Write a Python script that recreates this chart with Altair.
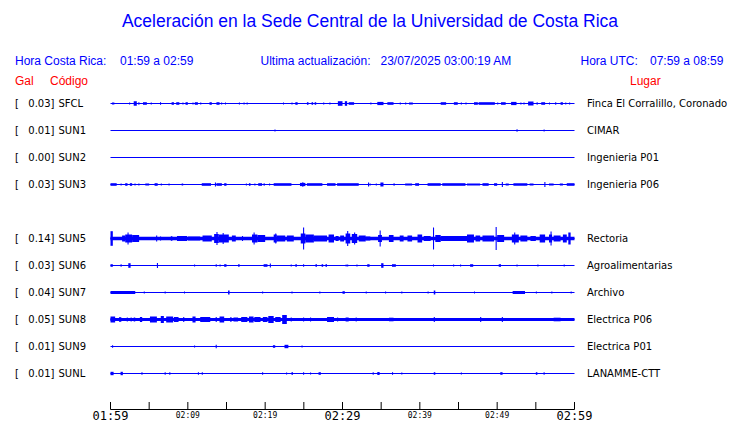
import altair as alt
import pandas as pd

BLUE = "#0000ff"
RED = "#ff0000"

stations = ["SFCL", "SUN1", "SUN2", "SUN3", "SUN5", "SUN6", "SUN7", "SUN8", "SUN9", "SUNL"]
row_slot = [0, 1, 2, 3, 5, 6, 7, 8, 9, 10]
gal_peak = ["0.03", "0.01", "0.00", "0.03", "0.14", "0.03", "0.04", "0.05", "0.01", "0.01"]
places = ["Finca El Corralillo, Coronado", "CIMAR", "Ingenieria P01", "Ingenieria P06",
          "Rectoria", "Agroalimentarias", "Archivo", "Electrica P06", "Electrica P01", "LANAMME-CTT"]
noise_level = [0, 0, 0, 0, 1.7, 0, 0, 1.4, 0, 0]

# bursts: (start minute, end minute, half amplitude)
sfcl_bursts = [(0.2, 0.5, 1), (2.4, 2.4, 1), (3.0, 3.4, 2.3), (3.6, 3.7, 1.3), (4.2, 4.7, 1.3), (5.2, 5.2, 1),
               (6.4, 6.4, 1.3), (7.9, 8.2, 1.3), (8.5, 8.9, 1.3), (9.3, 9.3, 1), (9.7, 10.0, 1.3), (10.6, 10.6, 1),
               (10.9, 11.3, 1.3), (11.6, 11.6, 1), (12.8, 13.1, 1.3), (13.7, 14.1, 1.3), (14.3, 14.3, 1),
               (14.8, 14.8, 1), (16.6, 16.6, 1), (17.2, 17.2, 1), (17.6, 17.6, 1), (22.3, 22.3, 1), (23.4, 23.4, 1),
               (23.9, 24.2, 1.3), (25.4, 25.6, 1.3), (26.0, 26.2, 1.3), (26.4, 26.6, 1.3), (27.5, 27.5, 1),
               (28.3, 28.3, 1), (29.4, 30.0, 2.3), (30.3, 30.6, 2.3), (30.8, 31.5, 1.3), (33.6, 33.6, 1),
               (34.5, 35.3, 1.6), (35.8, 36.6, 1.3), (37.4, 37.4, 1), (38.1, 38.1, 1), (38.6, 39.1, 1),
               (42.7, 43.4, 1.3), (44.4, 44.9, 1.3), (45.3, 45.3, 1), (45.9, 45.9, 1), (47.0, 47.5, 1.3),
               (47.6, 49.7, 1.3), (50.0, 50.0, 1), (50.5, 51.1, 1.3), (51.8, 52.5, 1.6), (53.0, 53.0, 1),
               (53.4, 53.4, 1), (54.0, 54.7, 2), (55.1, 55.1, 1.3), (55.7, 56.2, 1.3), (56.7, 56.7, 1),
               (57.5, 57.5, 1.3), (58.2, 58.5, 1.3), (58.8, 58.8, 1), (59.3, 59.3, 1)]
sun1_bursts = [(21.2, 21.2, 1), (52.5, 52.5, 1.3), (56.0, 56.0, 1)]
sun2_bursts = []
sun3_bursts = [(0.0, 0.8, 1.3), (1.3, 1.3, 1), (1.9, 2.2, 1.3), (2.5, 2.8, 1.3), (3.1, 3.1, 1), (3.6, 3.6, 1),
               (4.5, 5.0, 1), (5.7, 6.1, 1.3), (6.5, 6.5, 1), (7.5, 7.5, 1), (9.2, 9.4, 1), (11.8, 13.0, 1.3),
               (13.5, 13.5, 2), (13.7, 14.4, 1.3), (14.7, 15.0, 1.3), (17.5, 17.5, 1), (17.9, 18.1, 1.3),
               (18.6, 18.6, 1), (19.1, 19.6, 1.3), (19.8, 19.8, 1.3), (20.5, 20.5, 1), (21.1, 23.4, 1.3),
               (24.5, 25.2, 1.6), (24.8, 24.8, 2.3), (25.4, 27.4, 1.3), (28.0, 29.1, 1.3), (29.3, 32.1, 1.3),
               (33.3, 33.3, 2), (33.5, 33.5, 1), (34.3, 34.3, 1), (34.9, 35.3, 2), (36.6, 36.6, 1.3),
               (38.1, 39.0, 1), (39.4, 39.9, 1.3), (41.0, 42.7, 1.3), (42.9, 45.9, 1.3), (46.1, 47.8, 1),
               (48.1, 48.9, 1.3), (49.6, 50.0, 1.3), (50.6, 50.6, 2.5), (51.1, 51.5, 1), (52.1, 53.9, 1.3),
               (54.2, 54.7, 1), (56.1, 56.1, 2.5), (56.7, 57.3, 1), (58.1, 58.5, 1), (59.0, 60.0, 1.3)]
sun5_bursts = [(0.0, 0.3, 7.3), (1.5, 1.9, 3), (1.9, 2.8, 4), (2.2, 2.3, 6), (2.8, 3.7, 3.5), (5.9, 5.9, 3),
               (6.4, 6.4, 2), (7.8, 8.0, 2.3), (8.6, 9.9, 2.5), (10.0, 11.6, 2), (11.9, 13.1, 3),
               (13.4, 14.0, 4.5), (13.7, 13.8, 6.5), (14.0, 15.3, 4), (14.5, 14.6, 5.5), (15.7, 16.2, 3),
               (17.0, 17.0, 2.5), (18.3, 19.0, 4), (18.5, 18.6, 6), (19.0, 20.0, 3.5), (21.1, 21.5, 4),
               (21.3, 21.3, 5), (21.5, 22.6, 3), (22.8, 23.7, 3), (24.6, 25.2, 5), (24.9, 24.9, 11),
               (25.2, 26.3, 4), (26.3, 28.0, 3), (28.2, 28.9, 4), (29.1, 29.5, 2.5), (29.7, 30.2, 3),
               (30.4, 31.0, 5), (30.6, 30.7, 7.5), (31.2, 31.9, 4.5), (31.5, 31.5, 6), (32.1, 33.0, 3),
               (33.0, 33.6, 2), (34.6, 35.1, 3.5), (34.8, 34.8, 8), (36.0, 36.6, 3.5), (37.4, 37.9, 3),
               (38.4, 39.0, 3), (39.7, 40.3, 4), (40.5, 41.4, 2.5), (41.7, 41.8, 11), (42.0, 42.7, 3.5),
               (42.7, 46.1, 2.5), (46.1, 47.0, 4), (47.2, 47.8, 3), (48.1, 49.6, 3), (49.8, 49.9, 11.5),
               (50.0, 50.9, 3.5), (51.9, 52.8, 4), (52.2, 52.3, 6), (53.0, 53.9, 3), (54.3, 55.0, 2.5),
               (55.5, 56.2, 4), (56.7, 57.1, 4), (56.9, 56.9, 7), (57.3, 58.2, 3), (58.5, 59.0, 4),
               (59.2, 59.5, 6)]
sun6_bursts = [(0.0, 0.3, 1.3), (1.3, 1.3, 1.3), (2.3, 2.6, 2.3), (6.0, 6.0, 2.5), (10.8, 10.8, 1),
               (13.6, 13.6, 1.3), (14.1, 14.1, 1), (14.7, 15.0, 1.3), (16.5, 16.7, 1.3), (19.8, 20.3, 1.3),
               (20.6, 20.6, 2), (23.3, 23.3, 1), (23.9, 24.1, 1.3), (24.9, 25.0, 1.3), (26.5, 26.7, 1.3),
               (27.3, 27.5, 1.3), (27.8, 28.0, 1.3), (30.4, 30.4, 1), (30.6, 30.6, 1), (31.8, 31.8, 1),
               (33.2, 33.5, 1.3), (35.0, 35.3, 2.3), (36.4, 36.9, 1.3), (41.7, 41.7, 1), (44.3, 44.3, 1),
               (45.2, 45.2, 1), (46.5, 46.9, 1.3), (50.2, 50.5, 1.3), (52.5, 52.5, 1), (55.2, 55.2, 1),
               (58.6, 58.6, 1)]
sun7_bursts = [(0.0, 3.2, 1.5), (4.3, 4.3, 1), (7.0, 7.0, 1), (9.5, 9.5, 1), (15.2, 15.4, 2), (19.6, 19.6, 1),
               (23.4, 23.4, 1), (27.0, 27.0, 1), (30.0, 30.3, 1.3), (33.0, 33.0, 1), (35.5, 35.5, 1),
               (37.6, 37.6, 1), (41.0, 41.0, 1), (41.8, 42.0, 2), (47.0, 47.0, 1), (52.0, 53.6, 1.5),
               (55.0, 55.0, 1), (57.0, 57.0, 1), (59.5, 59.5, 1)]
sun8_bursts = [(0.0, 0.6, 3), (1.1, 1.4, 2.3), (2.1, 2.1, 2), (2.6, 2.6, 2), (3.0, 3.2, 2), (3.8, 4.1, 2.5),
               (5.1, 6.0, 3), (6.5, 6.9, 3.5), (7.2, 8.1, 3), (8.2, 8.8, 2.5), (9.4, 9.4, 2.5), (10.6, 11.0, 3),
               (11.6, 12.9, 2.5), (13.6, 13.6, 2.5), (14.1, 14.7, 3), (15.5, 15.5, 2.5), (15.9, 16.5, 2),
               (16.9, 17.7, 2.5), (17.9, 18.5, 3), (18.6, 19.4, 2.5), (19.7, 20.3, 2.5), (20.4, 21.1, 3.5),
               (21.3, 22.0, 2.5), (22.2, 22.8, 4.5), (23.3, 23.3, 2), (24.9, 24.9, 2), (25.8, 25.8, 2),
               (28.0, 28.9, 2.5), (29.3, 29.3, 2), (30.4, 30.8, 2), (31.7, 31.7, 2), (33.6, 33.6, 1.5),
               (36.0, 36.6, 1.8), (39.4, 39.4, 1.5), (41.8, 41.8, 2.5), (45.3, 45.3, 1.5), (47.8, 47.8, 2.5),
               (50.6, 50.6, 2.5), (53.2, 53.2, 1.5), (57.3, 58.2, 1.8)]
sun9_bursts = [(0.2, 0.2, 1.3), (10.8, 10.8, 1), (13.6, 13.6, 1.7), (21.0, 21.3, 1.3), (22.5, 23.0, 1.7),
               (24.7, 24.7, 1)]
sunl_bursts = [(0.0, 0.4, 1.7), (1.3, 1.6, 1.7), (4.0, 4.0, 1.3), (7.0, 7.0, 1.3), (7.6, 7.6, 1.3),
               (11.3, 11.3, 1.3), (11.8, 11.8, 1.3), (19.6, 19.6, 1.3), (22.7, 22.7, 1), (23.4, 23.6, 1.3),
               (24.9, 24.9, 1.3), (25.8, 25.8, 1), (26.9, 27.2, 1.3), (33.9, 33.9, 1.3), (34.5, 34.8, 1.5),
               (36.4, 36.4, 1.3), (37.6, 37.6, 1), (41.8, 42.0, 1.3), (45.3, 45.3, 1), (50.4, 50.7, 1.3),
               (55.0, 55.2, 1.3), (56.0, 56.0, 1.3)]

all_bursts = [sfcl_bursts, sun1_bursts, sun2_bursts, sun3_bursts, sun5_bursts,
              sun6_bursts, sun7_bursts, sun8_bursts, sun9_bursts, sunl_bursts]

tick_minutes = list(range(0, 61, 5))
label_minutes = [0, 10, 20, 30, 40, 50, 60]
label_text = ["01:59", "02:09", "02:19", "02:29", "02:39", "02:49", "02:59"]
label_big = [True, False, False, True, False, False, True]

title_text = "Aceleración en la Sede Central de la Universidad de Costa Rica"
hdr_cr_label, hdr_cr_value = "Hora Costa Rica:", "01:59 a 02:59"
hdr_upd_label, hdr_upd_value = "Ultima actualización:", "23/07/2025 03:00:19 AM"
hdr_utc_label, hdr_utc_value = "Hora UTC:", "07:59 a 08:59"

# ---------------- build tables ----------------
PX_PER_ROW = 27.0
st_df = pd.DataFrame({"station": stations, "row": row_slot, "gal": [g + "]" for g in gal_peak],
                      "place": places, "noise": noise_level})
st_df["t0"] = 0
st_df["t1"] = 60
st_df["lo"] = st_df["row"] - st_df["noise"] / PX_PER_ROW
st_df["hi"] = st_df["row"] + st_df["noise"] / PX_PER_ROW

recs = []
for r, bl in zip(row_slot, all_bursts):
    for s, e, a in bl:
        e2 = max(e, s + 0.14)
        recs.append({"row": r, "s": s, "e": e2, "lo": r - a / PX_PER_ROW, "hi": r + a / PX_PER_ROW})
burst_df = pd.DataFrame(recs)

tick_df = pd.DataFrame({"m": tick_minutes})
lab_df = pd.DataFrame({"m": label_minutes, "lab": label_text,
                       "fs": [12 if b else 8 for b in label_big]})

xs = alt.Scale(domain=[0, 60], range=[102.5, 566.5])
ys = alt.Scale(domain=[0, 10], range=[95.5, 365.5])

baseline = alt.Chart(st_df).mark_rule(color=BLUE, strokeWidth=1).encode(
    x=alt.X("t0:Q", scale=xs, axis=None), x2="t1:Q",
    y=alt.Y("row:Q", scale=ys, axis=None))

noise = alt.Chart(st_df).transform_filter("datum.noise > 0").mark_rect(color=BLUE).encode(
    x=alt.X("t0:Q", scale=xs, axis=None), x2="t1:Q",
    y=alt.Y("lo:Q", scale=ys, axis=None), y2="hi:Q")

bursts = alt.Chart(burst_df).mark_rect(color=BLUE).encode(
    x=alt.X("s:Q", scale=xs, axis=None), x2="e:Q",
    y=alt.Y("lo:Q", scale=ys, axis=None), y2="hi:Q")

axis_line = alt.Chart(pd.DataFrame({"a": [0], "b": [60]})).mark_rule(color="black", strokeWidth=1).encode(
    x=alt.X("a:Q", scale=xs, axis=None), x2="b:Q", y=alt.value(401.5))
ticks = alt.Chart(tick_df).mark_rule(color="black", strokeWidth=1).encode(
    x=alt.X("m:Q", scale=xs, axis=None), y=alt.value(394), y2=alt.value(401.5))
tick_labels = alt.Chart(lab_df).mark_text(font="DejaVu Sans Mono", baseline="middle", color="black").encode(
    x=alt.X("m:Q", scale=xs, axis=None), y=alt.value(407.5), text="lab:N",
    size=alt.Size("fs:Q", scale=None, legend=None))

lbl_font = "DejaVu Sans"
bracket = alt.Chart(st_df).mark_text(font=lbl_font, fontSize=10, align="left", baseline="middle", color="black").encode(
    x=alt.value(7), y=alt.Y("row:Q", scale=ys, axis=None), text=alt.value("["))
galtxt = alt.Chart(st_df).mark_text(font=lbl_font, fontSize=10, align="right", baseline="middle", color="black").encode(
    x=alt.value(46.5), y=alt.Y("row:Q", scale=ys, axis=None), text="gal:N")
code = alt.Chart(st_df).mark_text(font=lbl_font, fontSize=10, align="left", baseline="middle", color="black").encode(
    x=alt.value(50.5), y=alt.Y("row:Q", scale=ys, axis=None), text="station:N")
place = alt.Chart(st_df).mark_text(font=lbl_font, fontSize=10, align="left", baseline="middle", color="black").encode(
    x=alt.value(579), y=alt.Y("row:Q", scale=ys, axis=None), text="place:N")


def label(txt, x, y, color=BLUE, size=12, align="left"):
    return alt.Chart(pd.DataFrame({"t": [txt]})).mark_text(
        font="Liberation Sans", fontSize=size, align=align, baseline="middle", color=color
    ).encode(x=alt.value(x), y=alt.value(y), text="t:N")


headers = [
    label(title_text, 362, 14, size=17.5, align="center"),
    label(hdr_cr_label, 7, 52.5),
    label(hdr_cr_value, 112, 52.5),
    label(hdr_upd_label, 252.5, 52.5),
    label(hdr_upd_value, 372.5, 52.5),
    label(hdr_utc_label, 572.5, 52.5),
    label(hdr_utc_value, 642, 52.5),
    label("Gal", 7, 72.5, color=RED),
    label("Código", 42, 72.5, color=RED),
    label("Lugar", 622, 72.5, color=RED),
]

chart = alt.layer(
    baseline, noise, bursts, axis_line, ticks, tick_labels,
    bracket, galtxt, code, place, *headers
).properties(
    width=724, height=415, autosize=alt.AutoSizeParams(type="none"), padding=0
).configure_view(stroke=None)

chart.save("out.html", embed_options={"renderer": "svg", "actions": False})
